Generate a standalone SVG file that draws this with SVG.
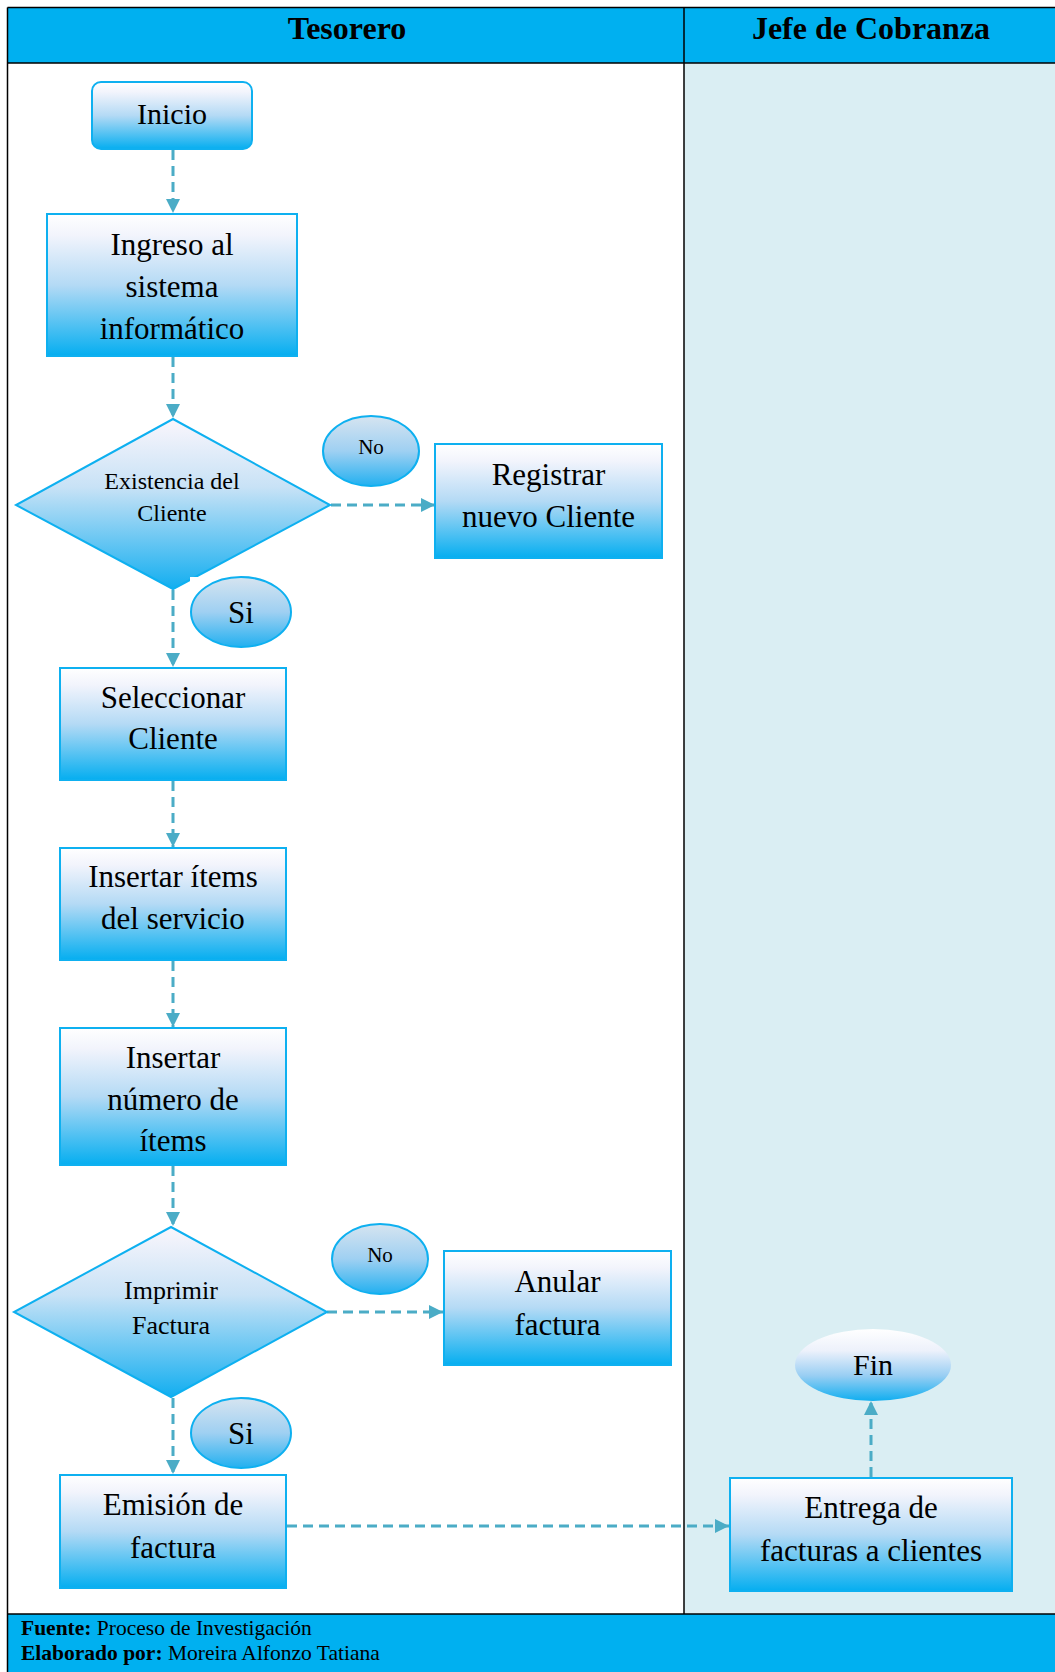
<svg xmlns="http://www.w3.org/2000/svg" width="1055" height="1672" viewBox="0 0 1055 1672">
<defs>
<style>
.lbl{font-family:"Liberation Serif","Times New Roman",serif;fill:#000;text-anchor:middle}
.hdr{font-family:"Liberation Serif","Times New Roman",serif;font-weight:bold;font-size:32px;fill:#000;text-anchor:middle}
.box{fill:url(#gBox);stroke:#0EB0F0;stroke-width:2}
.dia{fill:url(#gDia);stroke:#0EB0F0;stroke-width:2}
.circ{fill:url(#gCirc);stroke:#0EB0F0;stroke-width:2}
.con{fill:none;stroke:#4BACC6;stroke-width:3;stroke-dasharray:10 6}
.grid{stroke:#000;stroke-width:1.5;fill:none}
.ft{font-family:"Liberation Serif","Times New Roman",serif;font-size:21.5px;fill:#000}
</style>
<linearGradient id="gBox" x1="0" y1="0" x2="0" y2="1">
<stop offset="0" stop-color="#FFFFFF"/>
<stop offset="0.15" stop-color="#F2F4FC"/>
<stop offset="0.5" stop-color="#B4DAF5"/>
<stop offset="1" stop-color="#05AEF0"/>
</linearGradient>
<linearGradient id="gDia" x1="0" y1="0" x2="0" y2="1">
<stop offset="0" stop-color="#FAF6FC"/>
<stop offset="0.4" stop-color="#C8E2F6"/>
<stop offset="1" stop-color="#12AEF0"/>
</linearGradient>
<linearGradient id="gCirc" x1="0" y1="0" x2="0" y2="1">
<stop offset="0" stop-color="#D6E4F0"/>
<stop offset="0.5" stop-color="#9FD0F2"/>
<stop offset="1" stop-color="#22B0F0"/>
</linearGradient>
<linearGradient id="gFin" x1="0" y1="0" x2="0" y2="1">
<stop offset="0" stop-color="#FFFFFF"/>
<stop offset="0.3" stop-color="#EDF1FB"/>
<stop offset="0.65" stop-color="#98CEF3"/>
<stop offset="1" stop-color="#10AEF0"/>
</linearGradient>
<marker id="arr" markerUnits="userSpaceOnUse" markerWidth="16" markerHeight="16" viewBox="0 0 16 16" refX="15" refY="8" orient="auto">
<path d="M1,1 L15,8 L1,15 Z" fill="#4BACC6"/>
</marker>
</defs>

<g id="lanes">
<rect x="0" y="0" width="1055" height="1672" fill="#FFFFFF"/>
<rect x="7.5" y="7.5" width="1047.5" height="55.5" fill="#00B0F0"/>
<rect x="684" y="63" width="371" height="1551" fill="#DAEEF3"/>
<rect x="7.5" y="1614" width="1047.5" height="58" fill="#00B0F0"/>
<line class="grid" x1="7.5" y1="7.5" x2="1055" y2="7.5"/>
<line class="grid" x1="7.5" y1="7.5" x2="7.5" y2="1672"/>
<line class="grid" x1="7.5" y1="63" x2="1055" y2="63"/>
<line class="grid" x1="684" y1="7.5" x2="684" y2="1614"/>
<line class="grid" x1="7.5" y1="1614" x2="1055" y2="1614"/>
<text class="hdr" x="347" y="39">Tesorero</text>
<text class="hdr" x="871" y="39">Jefe de Cobranza</text>
</g>

<g id="connectors">
<line class="con" x1="173" y1="150" x2="173" y2="213" marker-end="url(#arr)"/>
<line class="con" x1="173" y1="357" x2="173" y2="418" marker-end="url(#arr)"/>
<line class="con" x1="331" y1="505" x2="435" y2="505" marker-end="url(#arr)"/>
<line class="con" x1="173" y1="590" x2="173" y2="667" marker-end="url(#arr)"/>
<line class="con" x1="173" y1="781" x2="173" y2="847" marker-end="url(#arr)"/>
<line class="con" x1="173" y1="961" x2="173" y2="1027" marker-end="url(#arr)"/>
<line class="con" x1="173" y1="1166" x2="173" y2="1226" marker-end="url(#arr)"/>
<line class="con" x1="327" y1="1312" x2="443" y2="1312" marker-end="url(#arr)"/>
<line class="con" x1="173" y1="1398" x2="173" y2="1474" marker-end="url(#arr)"/>
<line class="con" x1="287" y1="1526" x2="729" y2="1526" marker-end="url(#arr)"/>
<line class="con" x1="871" y1="1477" x2="871" y2="1401" marker-end="url(#arr)"/>
</g>

<g id="inicio">
<rect class="box" x="92" y="82" width="160" height="67" rx="9"/>
<text class="lbl" x="172" y="124" font-size="30">Inicio</text>
</g>

<g id="ingreso">
<rect class="box" x="47" y="214" width="250" height="142"/>
<text class="lbl" x="172" y="255" font-size="31">Ingreso al</text>
<text class="lbl" x="172" y="297" font-size="31">sistema</text>
<text class="lbl" x="172" y="339" font-size="31">informático</text>
</g>

<g id="existencia">
<polygon class="dia" points="173,419 330,505 173,589 16,505"/>
<text class="lbl" x="172" y="489" font-size="24">Existencia del</text>
<text class="lbl" x="172" y="521" font-size="24">Cliente</text>
</g>

<g id="no1">
<ellipse class="circ" cx="371" cy="451" rx="48" ry="35"/>
<text class="lbl" x="371" y="454" font-size="21">No</text>
</g>

<g id="registrar">
<rect class="box" x="435" y="444" width="227" height="114"/>
<text class="lbl" x="548.5" y="485" font-size="31">Registrar</text>
<text class="lbl" x="548.5" y="527" font-size="31">nuevo Cliente</text>
</g>

<g id="si1">
<rect x="190" y="577" width="104" height="74" fill="#FFFFFF"/>
<ellipse class="circ" cx="241" cy="612" rx="50" ry="35"/>
<text class="lbl" x="241" y="623" font-size="31">Si</text>
</g>

<g id="seleccionar">
<rect class="box" x="60" y="668" width="226" height="112"/>
<text class="lbl" x="173" y="708" font-size="31">Seleccionar</text>
<text class="lbl" x="173" y="749" font-size="31">Cliente</text>
</g>

<g id="insertar-items">
<rect class="box" x="60" y="848" width="226" height="112"/>
<text class="lbl" x="173" y="887" font-size="31">Insertar ítems</text>
<text class="lbl" x="173" y="929" font-size="31">del servicio</text>
</g>

<g id="insertar-numero">
<rect class="box" x="60" y="1028" width="226" height="137"/>
<text class="lbl" x="173" y="1068" font-size="31">Insertar</text>
<text class="lbl" x="173" y="1110" font-size="31">número de</text>
<text class="lbl" x="173" y="1151" font-size="31">ítems</text>
</g>

<g id="imprimir">
<polygon class="dia" points="171,1227 327,1312 171,1397 14,1312"/>
<text class="lbl" x="171" y="1299" font-size="26">Imprimir</text>
<text class="lbl" x="171" y="1334" font-size="26">Factura</text>
</g>

<g id="no2">
<ellipse class="circ" cx="380" cy="1259" rx="48" ry="35"/>
<text class="lbl" x="380" y="1262" font-size="21">No</text>
</g>

<g id="anular">
<rect class="box" x="444" y="1251" width="227" height="114"/>
<text class="lbl" x="557.5" y="1292" font-size="31">Anular</text>
<text class="lbl" x="557.5" y="1335" font-size="31">factura</text>
</g>

<g id="si2">
<ellipse class="circ" cx="241" cy="1433" rx="50" ry="35"/>
<text class="lbl" x="241" y="1444" font-size="31">Si</text>
</g>

<g id="emision">
<rect class="box" x="60" y="1475" width="226" height="113"/>
<text class="lbl" x="173" y="1515" font-size="31">Emisión de</text>
<text class="lbl" x="173" y="1558" font-size="31">factura</text>
</g>

<g id="entrega">
<rect class="box" x="730" y="1478" width="282" height="113"/>
<text class="lbl" x="871" y="1518" font-size="31">Entrega de</text>
<text class="lbl" x="871" y="1561" font-size="31">facturas a clientes</text>
</g>

<g id="fin">
<ellipse cx="873" cy="1365" rx="78" ry="36" fill="url(#gFin)"/>
<text class="lbl" x="873" y="1375" font-size="30">Fin</text>
</g>

<g id="footer">
<text class="ft" x="21" y="1635"><tspan font-weight="bold">Fuente:</tspan> Proceso de Investigación</text>
<text class="ft" x="21" y="1660"><tspan font-weight="bold">Elaborado por:</tspan> Moreira Alfonzo Tatiana</text>
</g>
</svg>
